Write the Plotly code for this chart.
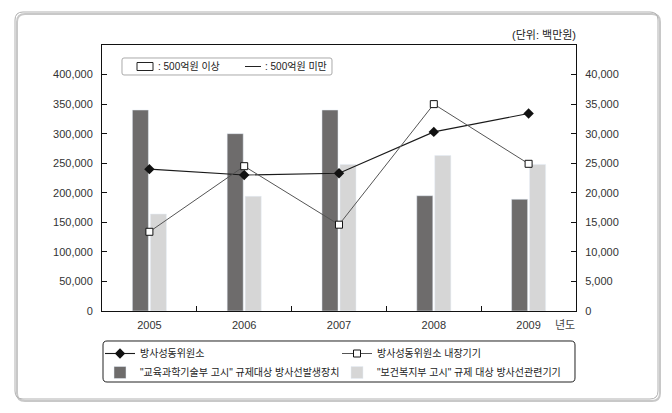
import plotly.graph_objects as go

years = ["2005", "2006", "2007", "2008", "2009"]
gen_devices = [340000, 300000, 340000, 195000, 189000]      # 교육과학기술부 고시 (left axis)
rel_devices = [164000, 194000, 248000, 263000, 248000]      # 보건복지부 고시 (left axis)
ri = [24000, 23000, 23300, 30300, 33400]                    # 방사성동위원소 (right axis)
ri_dev = [13400, 24500, 14600, 35000, 24900]                # 방사성동위원소 내장기기 (right axis)

left_ticks = list(range(0, 400001, 50000))
right_ticks = list(range(0, 40001, 5000))

names = ["방사성동위원소", "방사성동위원소 내장기기",
         "\"교육과학기술부 고시\" 규제대상 방사선발생장치",
         "\"보건복지부 고시\" 규제 대상 방사선관련기기"]

FONT = "Liberation Sans, Noto Sans CJK KR, sans-serif"
W, H = 672, 413
L, R, T, B = 102, 576, 45, 311


def px(x):
    return (x - L) / (R - L)


def py(y):
    return (B - y) / (B - T)


fig = go.Figure()
fig.add_trace(go.Scatter(x=years, y=ri, name=names[0], yaxis="y2", mode="lines+markers",
                         line=dict(color="#1a1a1a", width=1.1),
                         marker=dict(symbol="diamond", size=8, color="#111111")))
fig.add_trace(go.Scatter(x=years, y=ri_dev, name=names[1], yaxis="y2", mode="lines+markers",
                         line=dict(color="#555555", width=1),
                         marker=dict(symbol="square", size=7, color="white",
                                     line=dict(color="#111111", width=1))))
fig.add_trace(go.Bar(x=years, y=gen_devices, name=names[2], marker=dict(color="#6e6c6c")))
fig.add_trace(go.Bar(x=years, y=rel_devices, name=names[3], marker=dict(color="#d6d6d6")))


def rounded(x0, y0, x1, y1, r):
    def P(x, y):
        return f"{px(x):.5f},{py(y):.5f}"
    return (f"M {P(x0 + r, y0)} L {P(x1 - r, y0)} Q {P(x1, y0)} {P(x1, y0 + r)} "
            f"L {P(x1, y1 - r)} Q {P(x1, y1)} {P(x1 - r, y1)} "
            f"L {P(x0 + r, y1)} Q {P(x0, y1)} {P(x0, y1 - r)} "
            f"L {P(x0, y0 + r)} Q {P(x0, y0)} {P(x0 + r, y0)} Z")


shapes = [
    # outer frame shadow and frame
    dict(type="path", xref="paper", yref="paper", path=rounded(17, 14, 660, 401, 8),
         line=dict(color="#c8c8c8", width=2)),
    dict(type="path", xref="paper", yref="paper", path=rounded(15, 12, 658, 399, 8),
         line=dict(color="#b0b0b0", width=1)),
    # bottom legend box
    dict(type="path", xref="paper", yref="paper", path=rounded(103, 341, 575, 382, 4),
         line=dict(color="#222222", width=1)),
    # inner top-left note box
    dict(type="path", xref="paper", yref="paper", path=rounded(122, 58, 332, 75, 2),
         line=dict(color="#aaaaaa", width=1), fillcolor="white"),
    dict(type="rect", xref="paper", yref="paper", x0=px(137), x1=px(153), y0=py(62.5), y1=py(70.5),
         line=dict(color="#222222", width=1)),
    dict(type="line", xref="paper", yref="paper", x0=px(245), x1=px(261), y0=py(66.5), y1=py(66.5),
         line=dict(color="#222222", width=1)),
]

annotations = [
    dict(text="(단위: 백만원)", xref="paper", yref="paper", x=px(578), y=py(35),
         xanchor="right", yanchor="middle", showarrow=False,
         font=dict(size=11, color="#222222", family=FONT)),
    dict(text="년도", xref="paper", yref="paper", x=px(553), y=py(325),
         xanchor="left", yanchor="middle", showarrow=False,
         font=dict(size=11, color="#444444", family=FONT)),
    dict(text=": 500억원 이상", xref="paper", yref="paper", x=px(156), y=py(66.5),
         xanchor="left", yanchor="middle", showarrow=False,
         font=dict(size=10, color="#222222", family=FONT)),
    dict(text=": 500억원 미만", xref="paper", yref="paper", x=px(263), y=py(66.5),
         xanchor="left", yanchor="middle", showarrow=False,
         font=dict(size=10, color="#222222", family=FONT)),
]

fig.update_layout(
    width=W, height=H,
    margin=dict(l=L, r=W - R, t=T, b=H - B, pad=0),
    paper_bgcolor="white", plot_bgcolor="white",
    font=dict(family=FONT, size=11, color="#333333"),
    barmode="group", bargap=0.62, bargroupgap=0.11,
    showlegend=True,
    legend=dict(orientation="h", x=px(100), y=py(339), xanchor="left", yanchor="top",
                entrywidth=192, entrywidthmode="pixels", traceorder="normal",
                bgcolor="rgba(0,0,0,0)", borderwidth=0,
                font=dict(size=10, color="#222222", family=FONT),
                tracegroupgap=0, itemwidth=30),
    xaxis=dict(type="category", showline=True, linecolor="#111111", linewidth=1, mirror=True,
               ticks="inside", ticklen=5, tickcolor="#111111", tickson="boundaries",
               showgrid=False, tickfont=dict(size=11, color="#333333"), ticklabelstandoff=4),
    yaxis=dict(range=[0, 450000], tickvals=left_ticks, tickformat=",",
               showline=True, linecolor="#111111", linewidth=1,
               ticks="inside", ticklen=5, tickcolor="#111111",
               showgrid=False, zeroline=False, tickfont=dict(size=11, color="#333333"),
               ticklabelstandoff=6),
    yaxis2=dict(range=[0, 45000], tickvals=right_ticks, tickformat=",", overlaying="y", side="right",
                showline=True, linecolor="#111111", linewidth=1,
                ticks="inside", ticklen=5, tickcolor="#111111",
                showgrid=False, zeroline=False, tickfont=dict(size=11, color="#333333"),
                ticklabelstandoff=6),
    shapes=shapes,
    annotations=annotations,
)

fig.write_html("out.html")
